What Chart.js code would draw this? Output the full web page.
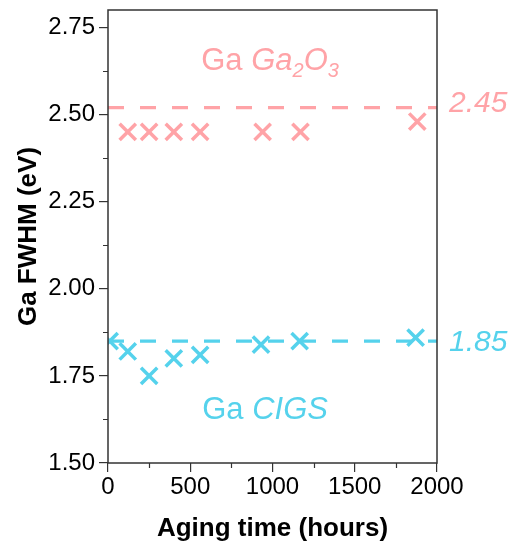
<!DOCTYPE html>
<html>
<head>
<meta charset="utf-8">
<script src="https://cdn.jsdelivr.net/npm/chart.js@4"></script>
<style>
  html, body { margin: 0; padding: 0; background: #fff; }
  #wrap { width: 517px; height: 542px; }
</style>
</head>
<body>
<div id="wrap"><canvas id="c" width="517" height="542"></canvas></div>
<script>
// ---- data ----
const ga2o3Hours = [120, 250, 400, 560, 940, 1170, 1880];
const ga2o3Fwhm  = [2.45, 2.45, 2.45, 2.45, 2.45, 2.45, 2.48];
const cigsHours  = [10, 120, 250, 400, 560, 930, 1165, 1870];
const cigsFwhm   = [1.85, 1.82, 1.75, 1.80, 1.81, 1.84, 1.85, 1.86];
const refLineX    = [0, 2000];
const ga2o3RefY   = 2.52;
const cigsRefY    = 1.85;
const ga2o3RefLabel = '2.45';
const cigsRefLabel  = '1.85';
const yTicks = [1.50, 1.75, 2.00, 2.25, 2.50, 2.75];
const xTicks = [0, 500, 1000, 1500, 2000];

const PINK = '#FFA3A7';
const BLUE = '#55D2EC';
const FONT = 'Arial, "Liberation Sans", sans-serif';

const toPts = (xs, ys) => xs.map((x, i) => ({ x, y: ys[i] }));

const framePlugin = {
  id: 'frame',
  afterDraw(chart) {
    const { ctx, chartArea: a, scales } = chart;
    const xs = scales.x, ys = scales.y;
    ctx.save();
    ctx.strokeStyle = '#333';
    ctx.lineWidth = 1.5;
    ctx.strokeRect(a.left, a.top, a.right - a.left, a.bottom - a.top);
    ctx.lineWidth = 1.2;
    ctx.beginPath();
    for (let i = 0; i < yTicks.length - 1; i++) {
      const v = (yTicks[i] + yTicks[i + 1]) / 2;
      const p = Math.round(ys.getPixelForValue(v)) + 0.5;
      ctx.moveTo(a.left - 5, p); ctx.lineTo(a.left, p);
    }
    for (let i = 0; i < xTicks.length - 1; i++) {
      const v = (xTicks[i] + xTicks[i + 1]) / 2;
      const p = Math.round(xs.getPixelForValue(v)) + 0.5;
      ctx.moveTo(p, a.bottom); ctx.lineTo(p, a.bottom + 5);
    }
    ctx.stroke();

    ctx.font = 'italic 30px ' + FONT;
    ctx.textBaseline = 'middle';
    ctx.textAlign = 'left';
    ctx.fillStyle = PINK;
    ctx.fillText(ga2o3RefLabel, a.right + 12, ys.getPixelForValue(ga2o3RefY) - 4);
    ctx.fillStyle = BLUE;
    ctx.fillText(cigsRefLabel, a.right + 12, ys.getPixelForValue(cigsRefY) + 2);

    const drawRuns = (runs, cx, baseY, color) => {
      let total = 0;
      runs.forEach(r => { ctx.font = r.f; total += ctx.measureText(r.t).width; });
      let x = cx - total / 2;
      ctx.fillStyle = color;
      ctx.textBaseline = 'alphabetic';
      runs.forEach(r => {
        ctx.font = r.f;
        ctx.fillText(r.t, x, baseY + (r.dy || 0));
        x += ctx.measureText(r.t).width;
      });
    };
    const big = '31px ' + FONT, bigI = 'italic 31px ' + FONT, subI = 'italic 20px ' + FONT;
    drawRuns([
      { t: 'Ga ', f: big }, { t: 'Ga', f: bigI }, { t: '2', f: subI, dy: 7 },
      { t: 'O', f: bigI }, { t: '3', f: subI, dy: 7 }
    ], xs.getPixelForValue(985), ys.getPixelForValue(2.627), PINK);
    drawRuns([
      { t: 'Ga ', f: big }, { t: 'CIGS', f: bigI }
    ], xs.getPixelForValue(955), ys.getPixelForValue(1.627), BLUE);
    ctx.restore();
  }
};

new Chart(document.getElementById('c'), {
  type: 'scatter',
  data: {
    datasets: [
      {
        type: 'line', data: toPts(refLineX, [ga2o3RefY, ga2o3RefY]),
        borderColor: PINK, borderWidth: 3.2, borderDash: [16, 16], pointRadius: 0, fill: false
      },
      {
        type: 'line', data: toPts(refLineX, [cigsRefY, cigsRefY]),
        borderColor: BLUE, borderWidth: 3.2, borderDash: [16, 16], pointRadius: 0, fill: false
      },
      {
        data: toPts(ga2o3Hours, ga2o3Fwhm),
        pointStyle: 'crossRot', pointRadius: 11.5, pointBorderWidth: 3.5,
        borderColor: PINK, backgroundColor: PINK
      },
      {
        data: toPts(cigsHours, cigsFwhm),
        pointStyle: 'crossRot', pointRadius: 11.5, pointBorderWidth: 3.5,
        borderColor: BLUE, backgroundColor: BLUE
      }
    ]
  },
  options: {
    responsive: false,
    animation: false,
    layout: { autoPadding: false, padding: { top: 10, right: 80, left: 0, bottom: 0 } },
    plugins: { legend: { display: false }, tooltip: { enabled: false } },
    scales: {
      x: {
        type: 'linear', min: 0, max: 2000,
        afterBuildTicks(s) { s.ticks = xTicks.map(v => ({ value: v })); },
        afterFit(s) { s.height = 79; },
        grid: { display: true, drawOnChartArea: false, tickLength: 9, color: '#333', lineWidth: 1.2 },
        border: { display: false },
        ticks: { color: '#000', font: { family: FONT, size: 24 }, padding: 1, maxRotation: 0,
                 callback: v => String(v) },
        title: { display: true, text: 'Aging time (hours)', color: '#000',
                 font: { family: FONT, size: 26, weight: 'bold', lineHeight: 1.0 },
                 padding: { top: 0, bottom: 0 } }
      },
      y: {
        type: 'linear', min: 1.5, max: 2.8,
        afterBuildTicks(s) { s.ticks = yTicks.map(v => ({ value: v })); },
        afterFit(s) { s.width = 108; },
        grid: { display: true, drawOnChartArea: false, tickLength: 9, color: '#333', lineWidth: 1.2 },
        border: { display: false },
        ticks: { color: '#000', font: { family: FONT, size: 24, lineHeight: 0.5 }, padding: 4,
                 callback: v => Number(v).toFixed(2) },
        title: { display: true, text: 'Ga FWHM (eV)', color: '#000',
                 font: { family: FONT, size: 26, weight: 'bold', lineHeight: 1.0 },
                 padding: { top: 16, bottom: 0 } }
      }
    }
  },
  plugins: [framePlugin]
});
</script>
</body>
</html>
